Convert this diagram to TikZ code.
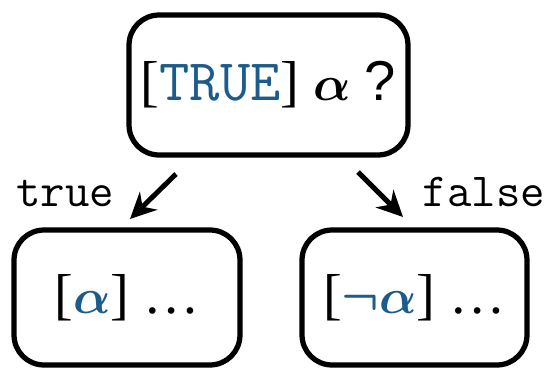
\RequirePackage{fix-cm}
\documentclass[tikz,border=0pt]{standalone}
\usepackage{amsmath}
\usepackage{bm}
\usepackage{fontspec}
\setmainfont{Liberation Serif}
\newfontfamily\qfont{Liberation Sans}
\usetikzlibrary{arrows.meta}
\definecolor{condblue}{HTML}{1B5C8C}

\begin{document}
\begin{tikzpicture}[
    x=0.02cm, y=-0.02cm,
    box/.style={draw, line width=0.105cm, rounded corners=0.6cm, align=center, font=\fontsize{32}{38}\selectfont},
    arr/.style={-{Stealth[length=0.52cm, width=0.5cm]}, line width=0.1cm},
    lbl/.style={font=\ttfamily\fontsize{27}{32}\selectfont, anchor=base}
]
\useasboundingbox (0,0) rectangle (552,369);

\node[box, minimum width=5.58cm, minimum height=2.8cm] (cond) at (268.5,85)
    {[{\color{condblue}\ttfamily\fontsize{33.5}{38}\selectfont TRUE}] {\fontsize{28}{32}\selectfont$\bm{\alpha}$} {\qfont ?}};
\node[box, minimum width=4.52cm, minimum height=2.7cm] (yes) at (127,297.5)
    {[{\color{condblue}\fontsize{28}{32}\selectfont$\bm{\alpha}$}] …};
\node[box, minimum width=4.5cm, minimum height=2.7cm] (no) at (414.5,297.5)
    {[{\color{condblue}\fontsize{28}{32}\selectfont$\bm{\neg\alpha}$}] …};

% branch labels
\node[lbl] (tlab) at (65,206) {true};
\node[lbl] (flab) at (484,206) {false};

\coordinate (tfrom) at (176,174);
\coordinate (tto) at (130,219);
\coordinate (ffrom) at (358,172);
\coordinate (fto) at (403,217);

\draw[arr] (tfrom) -- (tto);
\draw[arr] (ffrom) -- (fto);
\end{tikzpicture}
\end{document}
